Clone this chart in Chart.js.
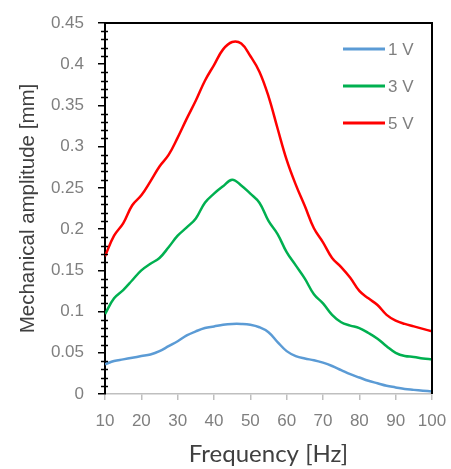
<!DOCTYPE html>
<html>
<head>
<meta charset="utf-8">
<script src="https://cdn.jsdelivr.net/npm/chart.js@4.4.1/dist/chart.umd.min.js"></script>
<style>
  html, body { margin: 0; padding: 0; background: #fff; }
  #wrap { width: 451px; height: 469px; }
</style>
</head>
<body>
<div id="wrap"><canvas id="ampChart" width="451" height="469"></canvas></div>
<script>
// Frequency sweep (Hz) and amplitude (mm) per drive voltage
const freq = [10, 12.5, 15, 17.5, 20, 22.5, 25, 27.5, 30, 32.5, 35, 37.5, 40, 42.5, 45, 47.5, 50,
  52.5, 55, 57.5, 60, 62.5, 65, 67.5, 70, 72.5, 75, 77.5, 80, 82.5, 85, 87.5, 90, 92.5, 95, 97.5, 100];

const amp1V = [0.036, 0.040, 0.042, 0.044, 0.046, 0.048, 0.052, 0.058, 0.064, 0.071, 0.076, 0.080, 0.082,
  0.084, 0.085, 0.085, 0.084, 0.081, 0.075, 0.063, 0.052, 0.046, 0.043, 0.041, 0.038, 0.034, 0.029,
  0.024, 0.020, 0.016, 0.013, 0.010, 0.008, 0.006, 0.005, 0.004, 0.003];

const amp3V = [0.097, 0.116, 0.126, 0.138, 0.150, 0.158, 0.165, 0.178, 0.192, 0.202, 0.213, 0.232, 0.243,
  0.252, 0.260, 0.253, 0.243, 0.232, 0.210, 0.194, 0.172, 0.156, 0.140, 0.121, 0.110, 0.096, 0.087,
  0.083, 0.080, 0.074, 0.067, 0.058, 0.050, 0.046, 0.045, 0.043, 0.042];

const amp5V = [0.167, 0.192, 0.207, 0.229, 0.241, 0.258, 0.276, 0.290, 0.311, 0.334, 0.356, 0.380, 0.399,
  0.418, 0.427, 0.425, 0.410, 0.391, 0.361, 0.322, 0.284, 0.254, 0.228, 0.201, 0.184, 0.165, 0.154,
  0.141, 0.125, 0.116, 0.108, 0.096, 0.089, 0.085, 0.082, 0.079, 0.076];

const seriesLabels = ["1 V", "3 V", "5 V"];
const seriesColors = ["#5B9BD5", "#00B050", "#FF0000"];

const toPoints = (ys) => freq.map((f, i) => ({ x: f, y: ys[i] }));

const arial = "'Liberation Sans', Arial, sans-serif";

// frame on top/right, minor ticks on the y axis, legend inside the plot
const extras = {
  id: "extras",
  afterDraw(chart) {
    const ctx = chart.ctx;
    const a = chart.chartArea;
    const y = chart.scales.y;
    ctx.save();
    ctx.strokeStyle = "#000";
    ctx.lineWidth = 2;
    ctx.beginPath();
    ctx.moveTo(a.left, a.top);
    ctx.lineTo(a.right, a.top);
    ctx.lineTo(a.right, a.bottom);
    ctx.stroke();

    ctx.lineWidth = 1.5;
    for (let v = 0.01; v < 0.45; v += 0.01) {
      if (Math.round(v * 100) % 5 === 0) continue;
      const py = Math.round(y.getPixelForValue(v)) + 0.5;
      ctx.beginPath();
      ctx.moveTo(a.left - 4, py);
      ctx.lineTo(a.left + 3, py);
      ctx.stroke();
    }

    ctx.font = "17px " + arial;
    ctx.textBaseline = "middle";
    ctx.fillStyle = "#7f7f7f";
    chart.data.datasets.forEach((ds, i) => {
      const ly = a.top + 26 + i * 37;
      ctx.strokeStyle = ds.borderColor;
      ctx.lineWidth = 3;
      ctx.beginPath();
      ctx.moveTo(a.right - 89, ly);
      ctx.lineTo(a.right - 47, ly);
      ctx.stroke();
      ctx.fillText(ds.label, a.right - 44, ly + 1);
    });
    ctx.restore();
  }
};

new Chart(document.getElementById("ampChart"), {
  type: "line",
  data: {
    datasets: [
      { label: seriesLabels[0], data: toPoints(amp1V), borderColor: seriesColors[0] },
      { label: seriesLabels[1], data: toPoints(amp3V), borderColor: seriesColors[1] },
      { label: seriesLabels[2], data: toPoints(amp5V), borderColor: seriesColors[2] },
    ],
  },
  options: {
    responsive: false,
    animation: false,
    layout: { padding: { top: 23, right: 19, left: 0, bottom: 0 } },
    elements: {
      line: { borderWidth: 2.5, tension: 0.4, fill: false },
      point: { radius: 0 },
    },
    plugins: {
      legend: { display: false },
      tooltip: { enabled: false },
    },
    scales: {
      x: {
        type: "linear",
        min: 10,
        max: 100,
        afterFit: (s) => { s.height = 75; s.paddingLeft = 0; s.paddingRight = 0; },
        ticks: {
          stepSize: 10,
          color: "#7f7f7f",
          font: { family: arial, size: 17 },
          padding: 11,
        },
        grid: { drawOnChartArea: false, tickLength: 6, color: "#bfbfbf", lineWidth: 1.5 },
        border: { color: "#bfbfbf", width: 1.5 },
        title: {
          display: true,
          text: "Frequency [Hz]",
          color: "#404040",
          font: { family: "Lato, 'Open Sans', sans-serif", size: 24 },
          padding: { top: 0, bottom: 0 },
        },
      },
      y: {
        min: 0,
        max: 0.45,
        afterFit: (s) => { s.width = 105; s.paddingTop = 0; s.paddingBottom = 0; },
        ticks: {
          stepSize: 0.05,
          color: "#7f7f7f",
          font: { family: arial, size: 17 },
          padding: 14,
          callback: (v) => String(+v.toFixed(2)),
        },
        grid: { drawOnChartArea: false, tickLength: 7, color: "#000", lineWidth: 1.5 },
        border: { color: "#000", width: 2 },
        title: {
          display: true,
          text: "Mechanical amplitude [mm]",
          color: "#404040",
          font: { family: arial, size: 20.5 },
          padding: { top: 16, bottom: 0 },
        },
      },
    },
  },
  plugins: [extras],
});
</script>
</body>
</html>
